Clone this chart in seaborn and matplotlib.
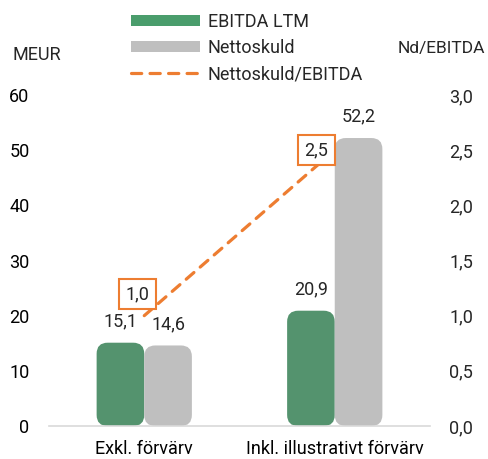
import pandas as pd
import matplotlib.pyplot as plt
import seaborn as sns
from matplotlib.patches import FancyBboxPatch, Patch
from matplotlib.lines import Line2D

# data
kategorier = ["Exkl. förvärv", "Inkl. illustrativt förvärv"]
ebitda_ltm = [15.1, 20.9]
nettoskuld = [14.6, 52.2]
nd_ebitda = [1.0, 2.5]
serier = ["EBITDA LTM", "Nettoskuld"]

green = "#4a9d6c"
grey = "#bfbfbf"
orange = "#ed7d31"

sns.set_style("white")
plt.rcParams['font.family'] = ['Roboto', 'DejaVu Sans']
fs = 13

df = pd.DataFrame({
    "Kategori": kategorier * 2,
    "Serie": [serier[0]] * 2 + [serier[1]] * 2,
    "Varde": ebitda_ltm + nettoskuld,
})

fig = plt.figure(figsize=(4.88, 4.59), dpi=100)
ax = fig.add_axes([49 / 488, 33 / 459, 381 / 488, 331 / 459])

sns.barplot(data=df, x="Kategori", y="Varde", hue="Serie", order=kategorier,
            hue_order=serier, palette=[green, grey], width=0.5, gap=0,
            legend=False, ax=ax)
ax.set_xlim(-0.5, 1.5)
ax.set_ylim(0, 60)
ax.set_yticks(range(0, 61, 10))
ax.set_xlabel("")
ax.set_ylabel("")
for s in ["top", "right", "left"]:
    ax.spines[s].set_visible(False)
ax.spines["bottom"].set_color("#d9d9d9")
ax.spines["bottom"].set_linewidth(1.2)
ax.tick_params(axis="both", length=0, labelsize=fs, colors="black")
ax.tick_params(axis="y", pad=14)
ax.tick_params(axis="x", pad=10)

# rounded bars
fig.canvas.draw()
p0 = ax.transData.transform((0, 0))
p1 = ax.transData.transform((1, 1))
asp = (p1[0] - p0[0]) / (p1[1] - p0[1])
r = 11 / (p1[0] - p0[0])
bars = list(ax.patches)
for p in bars:
    x, y = p.get_xy()
    w, h = p.get_width(), p.get_height()
    fb = FancyBboxPatch((x, y), w, h, boxstyle=f"round,pad=0,rounding_size={r}",
                        mutation_aspect=asp, fc=p.get_facecolor(), ec="none", zorder=2)
    p.remove()
    ax.add_patch(fb)
    ax.annotate(f"{h:.1f}".replace(".", ","), (x + w / 2, h), xytext=(0, 9),
                textcoords="offset points", ha="center", va="bottom", fontsize=fs)

# ratio line on right axis
ax2 = ax.twinx()
sns.lineplot(x=[0, 1], y=nd_ebitda, color=orange, lw=2.3, ax=ax2,
             linestyle=(0, (3.2, 2.6)), dash_capstyle="round")
ax2.set_xlim(-0.5, 1.5)
ax2.set_ylim(0, 3)
ax2.set_yticks([i * 0.5 for i in range(7)])
ax2.set_yticklabels([f"{v * 0.5:.1f}".replace(".", ",") for v in range(7)])
ax2.tick_params(axis="y", length=0, labelsize=fs, pad=14)
for s in ax2.spines.values():
    s.set_visible(False)

offsets = [(-4.7, 15.5), (-13.3, 0)]
for i, v in enumerate(nd_ebitda):
    ax2.annotate(f"{v:.1f}".replace(".", ","), (i, v), xytext=offsets[i],
                 textcoords="offset points", ha="center", va="center", fontsize=fs,
                 bbox=dict(boxstyle="square,pad=0.35", fc="white", ec=orange, lw=1.5))

fig.text(37 / 488, 1 - 55 / 459, "MEUR", ha="center", va="center", fontsize=fs)
fig.text(485 / 488, 1 - 48 / 459, "Nd/EBITDA", ha="right", va="center", fontsize=12.5)

handles = [Patch(fc=green, ec="none"), Patch(fc=grey, ec="none"),
           Line2D([], [], color=orange, lw=2.3, linestyle=(0, (3.2, 2.6)),
                  dash_capstyle="round")]
fig.legend(handles, ["EBITDA LTM", "Nettoskuld", "Nettoskuld/EBITDA"],
           loc="upper left", bbox_to_anchor=(131 / 488, 1 - 13 / 459), frameon=False,
           fontsize=fs, handlelength=3.8, handleheight=0.6, handletextpad=0.45,
           labelspacing=0.45, borderpad=0, borderaxespad=0)

plt.savefig("out.png", dpi=100)
